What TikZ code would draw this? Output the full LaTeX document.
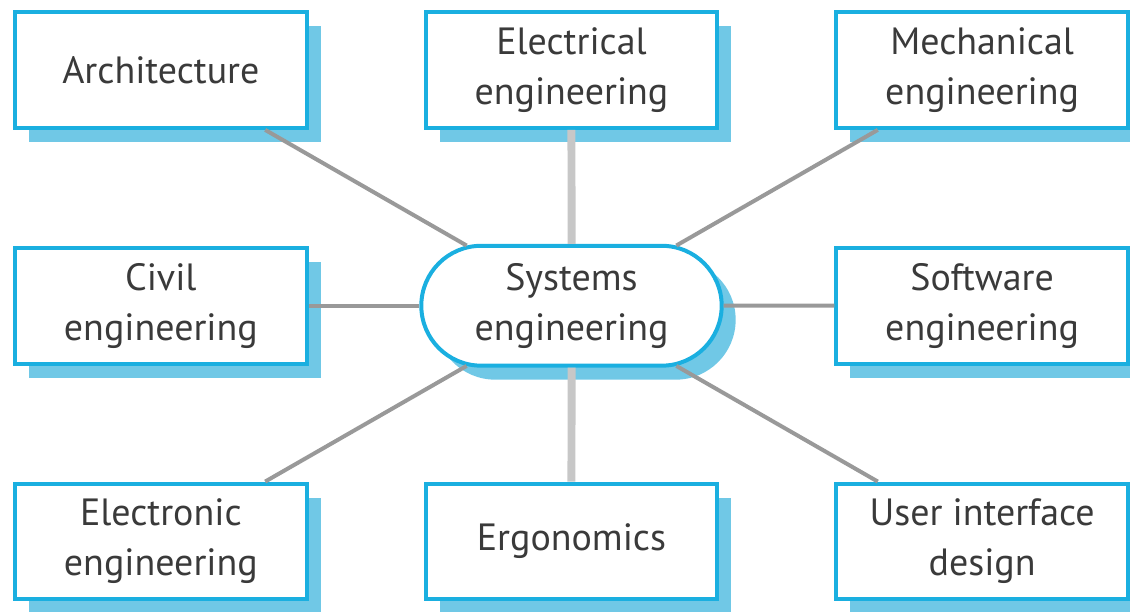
\documentclass[tikz,border=0pt]{standalone}
\usepackage{fontspec}
\setmainfont{PT Sans}
\usetikzlibrary{positioning,shadows,shapes.misc}

\definecolor{boxblue}{HTML}{1AAFE0}
\definecolor{shadeblue}{HTML}{70C8E6}
\definecolor{linegray}{HTML}{999999}
\definecolor{textgray}{HTML}{3A3A3A}

\tikzset{
    field/.style={draw=boxblue, line width=2pt, fill=white, text=textgray,
        minimum width=146pt, minimum height=58pt, align=center,
        font=\fontsize{19}{25}\selectfont,
        drop shadow={shadow xshift=7pt, shadow yshift=-7pt, fill=shadeblue, opacity=1}},
    hub/.style={field, rounded rectangle, minimum width=157pt, minimum height=60pt},
    link/.style={draw=linegray, line width=2pt},
    vlink/.style={draw=linegray!55, line width=4pt}
}

\begin{document}
\begin{tikzpicture}[node distance=118pt and 205.5pt, on grid]
    % Centre and the fields round it
    \node [hub]   (sys)                      {Systems\\engineering};
    \node [field] (arch)  [above left=of sys]  {Architecture};
    \node [field] (elec)  [above=of sys]       {Electrical\\engineering};
    \node [field] (mech)  [above right=of sys] {Mechanical\\engineering};
    \node [field] (civil) [left=of sys]        {Civil\\engineering};
    \node [field] (soft)  [right=of sys]       {Software\\engineering};
    \node [field] (tron)  [below left=of sys]  {Electronic\\engineering};
    \node [field] (ergo)  [below=of sys]       {Ergonomics};
    \node [field] (ui)    [below right=of sys] {User interface\\design};

    % Bounding box, margins of the reference
    \useasboundingbox ([shift={(-286pt,153pt)}]sys.center) rectangle ([shift={(279pt,-153pt)}]sys.center);

    % Links
    \path [link]  (sys) -- (arch);
    \path [vlink] (sys) -- (elec);
    \path [link]  (sys) -- (mech);
    \path [link]  (sys) -- (civil);
    \path [link]  (sys) -- (soft);
    \path [link]  (sys) -- (tron);
    \path [vlink] (sys) -- (ergo);
    \path [link]  (sys) -- (ui);
\end{tikzpicture}
\end{document}
